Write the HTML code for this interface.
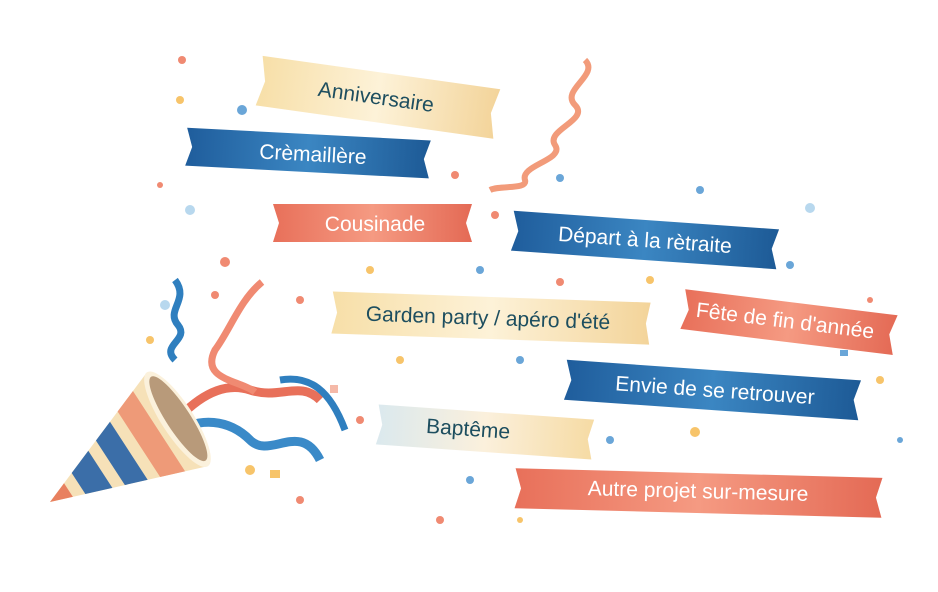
<!DOCTYPE html>
<html><head><meta charset="utf-8"><style>
html,body{margin:0;padding:0;background:#fff}
svg{display:block}
text{font-family:"Liberation Sans","DejaVu Sans",sans-serif;font-size:21px}
</style></head><body>
<svg width="938" height="592" viewBox="0 0 938 592" xmlns="http://www.w3.org/2000/svg">
<defs>
<linearGradient id="cr" x1="0" x2="1"><stop offset="0" stop-color="#f7dfa8"/><stop offset=".5" stop-color="#fdf2d8"/><stop offset="1" stop-color="#f3d49a"/></linearGradient>
<linearGradient id="bl" x1="0" x2="1"><stop offset="0" stop-color="#1f5d9c"/><stop offset=".5" stop-color="#3b86c2"/><stop offset="1" stop-color="#1d5a96"/></linearGradient>
<linearGradient id="sa" x1="0" x2="1"><stop offset="0" stop-color="#e8705a"/><stop offset=".5" stop-color="#f59a82"/><stop offset="1" stop-color="#e46a55"/></linearGradient>
<linearGradient id="ba" x1="0" x2="1"><stop offset="0" stop-color="#dbe9ee"/><stop offset=".5" stop-color="#fbf0dc"/><stop offset="1" stop-color="#f6dba4"/></linearGradient>
<clipPath id="cc"><polygon points="0,0 152,-56 152,56"/></clipPath>
</defs>

<g>
<circle cx="182" cy="60" r="4" fill="#f08a72"/><circle cx="242" cy="110" r="5" fill="#6aa6d8"/><circle cx="180" cy="100" r="4" fill="#f7c46a"/>
<circle cx="160" cy="185" r="3" fill="#f08a72"/><circle cx="190" cy="210" r="5" fill="#b8d8ee"/><circle cx="225" cy="262" r="5" fill="#f08a72"/>
<circle cx="455" cy="175" r="4" fill="#f08a72"/><circle cx="495" cy="215" r="4" fill="#f08a72"/><circle cx="560" cy="178" r="4" fill="#6aa6d8"/>
<circle cx="700" cy="190" r="4" fill="#6aa6d8"/><circle cx="810" cy="208" r="5" fill="#b8d8ee"/><circle cx="790" cy="265" r="4" fill="#6aa6d8"/>
<circle cx="480" cy="270" r="4" fill="#6aa6d8"/><circle cx="370" cy="270" r="4" fill="#f7c46a"/><circle cx="560" cy="282" r="4" fill="#f08a72"/>
<circle cx="300" cy="300" r="4" fill="#f08a72"/><circle cx="650" cy="280" r="4" fill="#f7c46a"/><circle cx="870" cy="300" r="3" fill="#f08a72"/>
<circle cx="400" cy="360" r="4" fill="#f7c46a"/><circle cx="520" cy="360" r="4" fill="#6aa6d8"/><circle cx="880" cy="380" r="4" fill="#f7c46a"/>
<circle cx="360" cy="420" r="4" fill="#f08a72"/><circle cx="610" cy="440" r="4" fill="#6aa6d8"/><circle cx="695" cy="432" r="5" fill="#f7c46a"/>
<circle cx="250" cy="470" r="5" fill="#f7c46a"/><circle cx="300" cy="500" r="4" fill="#f08a72"/><circle cx="470" cy="480" r="4" fill="#6aa6d8"/>
<circle cx="520" cy="520" r="3" fill="#f7c46a"/><circle cx="440" cy="520" r="4" fill="#f08a72"/><circle cx="900" cy="440" r="3" fill="#6aa6d8"/>
<circle cx="150" cy="340" r="4" fill="#f7c46a"/><circle cx="165" cy="305" r="5" fill="#b8d8ee"/><circle cx="215" cy="295" r="4" fill="#f08a72"/>
<rect x="270" y="470" width="10" height="8" fill="#f7c46a"/><rect x="330" y="385" width="8" height="8" fill="#f5b9a8"/><rect x="840" y="350" width="8" height="6" fill="#6aa6d8"/>
</g>

<path d="M585 60 C600 75,560 90,575 105 C590 120,545 130,555 145 C565 160,520 165,525 180 C528 190,500 185,490 190" stroke="#f29b7a" stroke-width="6" fill="none"/>

<path d="M175 280 C190 300,165 310,178 325 C190 340,160 345,175 360" stroke="#2f7fbf" stroke-width="7" fill="none"/>
<path d="M160 440 C190 400,220 380,250 390 C280 400,300 380,320 400" stroke="#e8705a" stroke-width="9" fill="none"/>
<path d="M262 282 C240 300,230 330,215 350 C200 380,240 380,255 392" stroke="#f08a72" stroke-width="7" fill="none"/>
<path d="M170 435 C200 415,230 420,250 440 C270 460,300 420,320 460" stroke="#3a8ac8" stroke-width="9" fill="none"/>
<path d="M280 380 C310 375,330 390,345 430" stroke="#2f7fbf" stroke-width="7" fill="none"/>

<g transform="translate(50,502) rotate(-33)">
<g clip-path="url(#cc)">
<rect x="0" y="-60" width="160" height="120" fill="#f6e1b8"/>
<rect x="0" y="-60" width="22" height="120" fill="#e8805f"/>
<rect x="34" y="-60" width="26" height="120" fill="#3b6ea8"/>
<rect x="72" y="-60" width="22" height="120" fill="#3b6ea8"/>
<rect x="106" y="-60" width="24" height="120" fill="#ee9a78"/>
</g>
<ellipse cx="152" cy="0" rx="16" ry="56" fill="#fbf1dc"/>
<ellipse cx="153" cy="0" rx="12" ry="50" fill="#b89a7a"/>
</g>

<g transform="rotate(8 376 97)"><polygon points="258,72 498,72 492,97 498,122 258,122 264,97" fill="url(#cr)"/><text x="376" y="104" text-anchor="middle" fill="#1d4e5f">Anniversaire</text></g>
<g transform="rotate(3 307 153)"><polygon points="186,134 430,134 424,153 430,172 186,172 192,153" fill="url(#bl)"/><text x="313" y="161" text-anchor="middle" fill="#fff">Crèmaillère</text></g>
<g><polygon points="273,204 472,204 466,223 472,242 273,242 279,223" fill="url(#sa)"/><text x="375" y="231" text-anchor="middle" fill="#fff">Cousinade</text></g>
<g transform="rotate(4 645 240)"><polygon points="512,220 778,220 772,240 778,260 512,260 518,240" fill="url(#bl)"/><text x="645" y="247" text-anchor="middle" fill="#fff">Départ à la rètraite</text></g>
<g transform="rotate(2 490 318)"><polygon points="332,297 650,297 646,318 650,339 332,339 337,318" fill="url(#cr)"/><text x="488" y="325" text-anchor="middle" fill="#1d4e5f">Garden party / apéro d'été</text></g>
<g transform="rotate(7 788 322)"><polygon points="682,302 896,302 890,322 896,342 682,342 688,322" fill="url(#sa)"/><text x="785" y="328" text-anchor="middle" fill="#fff" font-size="19">Fête de fin d'année</text></g>
<g transform="rotate(4 712 390)"><polygon points="565,370 860,370 854,390 860,410 565,410 571,390" fill="url(#bl)"/><text x="715" y="397" text-anchor="middle" fill="#fff">Envie de se retrouver</text></g>
<g transform="rotate(4 485 432)"><polygon points="377,412 593,412 588,432 593,452 377,452 382,432" fill="url(#ba)"/><text x="468" y="437" text-anchor="middle" fill="#1d4e5f">Baptême</text></g>
<g transform="rotate(1.5 698 493)"><polygon points="515,473 882,473 876,493 882,513 515,513 521,493" fill="url(#sa)"/><text x="698" y="498" text-anchor="middle" fill="#fff">Autre projet sur-mesure</text></g>
</svg>
</body></html>
